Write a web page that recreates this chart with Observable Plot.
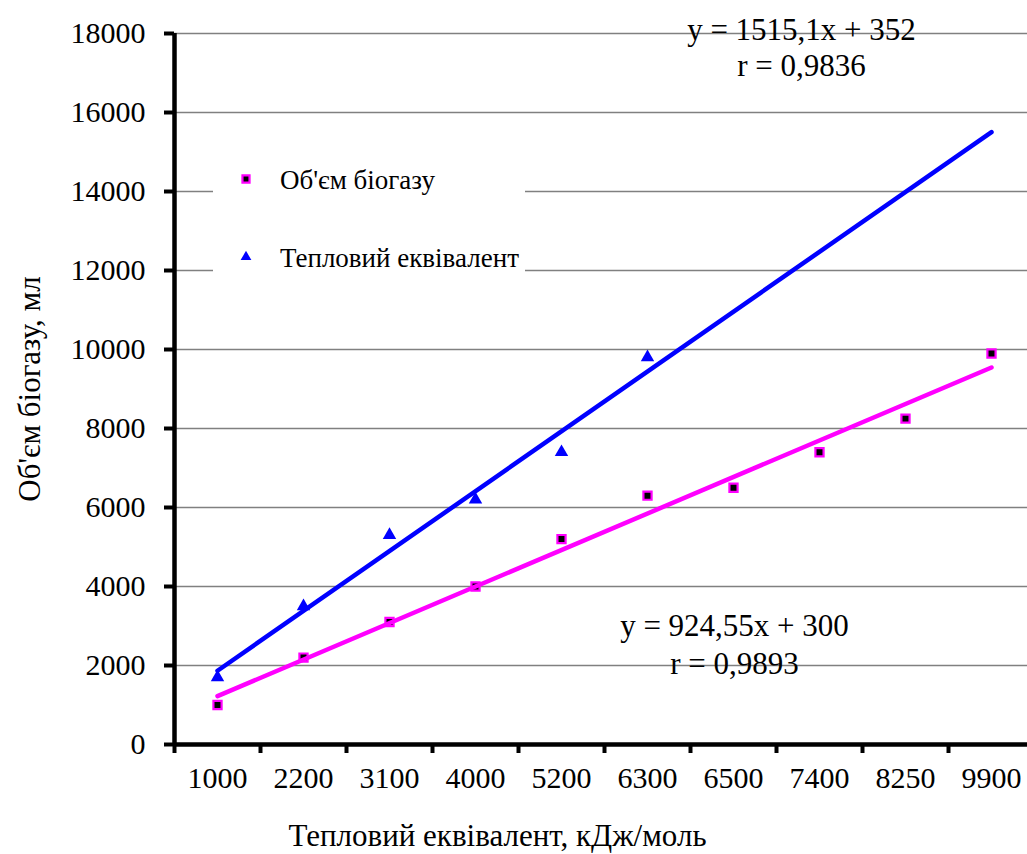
<!DOCTYPE html>
<html><head><meta charset="utf-8">
<script src="https://cdn.jsdelivr.net/npm/d3@7"></script>
<script src="https://cdn.jsdelivr.net/npm/@observablehq/plot@0.6"></script>
<style>
body{margin:0;background:#fff}
#chart svg{overflow:visible}
</style>
</head><body><div id="chart"></div>
<script>
// ---- data ----
const categories = ["1000","2200","3100","4000","5200","6300","6500","7400","8250","9900"];
const biogasVolume = [1000, 2200, 3100, 4000, 5200, 6300, 6500, 7400, 8250, 9900];
const heatEquivalent = [1700, 3500, 5300, 6200, 7400, 9800];
const heatTrendEnds = [1867, 15503];     // trend line value at first / last category
const biogasTrendEnds = [1225, 9545];
const yTickValues = [0, 2000, 4000, 6000, 8000, 10000, 12000, 14000, 16000, 18000];
const seriesNames = ["Об'єм біогазу", "Тепловий еквівалент"];
const heatEquation = "y = 1515,1x + 352\nr = 0,9836";
const biogasEquation = "y = 924,55x + 300\nr = 0,9893";
const xTitle = "Тепловий еквівалент, кДж/моль";
const yTitle = "Об'єм біогазу, мл";

const MAGENTA = "#FF00FF", BLUE = "#0000FF";
const FONT = "'Liberation Serif','Times New Roman',serif";

const biogasRows = biogasVolume.map((v, i) => ({idx: i + 1, v}));
const heatRows = heatEquivalent.map((v, i) => ({idx: i + 1, v}));
const last = categories.length;
const heatTrend = [{idx: 1, v: heatTrendEnds[0]}, {idx: last, v: heatTrendEnds[1]}];
const biogasTrend = [{idx: 1, v: biogasTrendEnds[0]}, {idx: last, v: biogasTrendEnds[1]}];
const boundaries = d3.range(0.5, last + 0.6, 1);
const labelRows = categories.map((c, i) => ({idx: i + 1, c}));

function legendMark(index, scales, values, dims) {
  const g = d3.create("svg:g");
  const L = dims.marginLeft, T = dims.marginTop;
  g.append("rect").attr("x", L + 39).attr("y", T + 117).attr("width", 312).attr("height", 126).attr("fill", "white");
  g.append("path").attr("transform", `translate(${L + 72},${T + 146})`)
    .attr("d", d3.symbol(d3.symbolSquare, 50)())
    .attr("fill", "black").attr("stroke", MAGENTA).attr("stroke-width", 2.2);
  g.append("path").attr("transform", `translate(${L + 72},${T + 224})`)
    .attr("d", d3.symbol(d3.symbolTriangle, 50)())
    .attr("fill", BLUE);
  const t = g.append("g").attr("font-family", FONT).attr("font-size", 27).attr("fill", "black").attr("text-anchor", "start");
  t.append("text").attr("x", L + 106).attr("y", T + 156).text(seriesNames[0]);
  t.append("text").attr("x", L + 106).attr("y", T + 234).text(seriesNames[1]);
  return g.node();
}

const chart = Plot.plot({
  width: 1027,
  height: 854,
  marginLeft: 174,
  marginRight: 0,
  marginTop: 33,
  marginBottom: 110,
  style: {fontFamily: FONT, fontSize: "27px", color: "black", background: "white"},
  x: {domain: [0.5, last + 0.5], range: [174, 1034], axis: null},
  y: {domain: [0, 18000], axis: null},
  marks: [
    Plot.gridY(yTickValues.slice(1), {stroke: "#808080", strokeOpacity: 1, strokeWidth: 1.6}),
    legendMark,
    Plot.dot(biogasRows, {x: "idx", y: "v", symbol: "square", r: 4.6, fill: "black", stroke: MAGENTA, strokeWidth: 2.2}),
    Plot.dot(heatRows, {x: "idx", y: "v", symbol: "triangle", r: 5, fill: BLUE}),
    Plot.line(heatTrend, {x: "idx", y: "v", stroke: BLUE, strokeWidth: 4.5, strokeLinecap: "round"}),
    Plot.line(biogasTrend, {x: "idx", y: "v", stroke: MAGENTA, strokeWidth: 4.5, strokeLinecap: "round"}),
    // axes
    Plot.axisY({ticks: yTickValues, label: null, tickSize: 10, strokeWidth: 4, tickPadding: 19, fontSize: 30, fontFamily: FONT, tickFormat: d => String(d)}),
    Plot.axisX({ticks: boundaries, label: null, tickSize: 9, strokeWidth: 4, tickFormat: () => ""}),
    Plot.ruleX([0.5], {stroke: "black", strokeWidth: 4.5}),
    Plot.ruleY([0], {stroke: "black", strokeWidth: 4.5}),
    Plot.text(labelRows, {x: "idx", text: "c", frameAnchor: "bottom", dy: 34, fontSize: 30, fontFamily: FONT, lineAnchor: "middle"}),
    // titles
    Plot.text([xTitle], {frameAnchor: "bottom-left", textAnchor: "middle", dx: 323, dy: 92, fontSize: 31, lineAnchor: "middle"}),
    Plot.text([yTitle], {frameAnchor: "left", textAnchor: "middle", dx: -144, rotate: -90, fontSize: 31, lineAnchor: "middle"}),
    // equations
    Plot.text([heatEquation], {frameAnchor: "top-left", textAnchor: "middle", dx: 627, dy: 13, fontSize: 31, lineAnchor: "middle", lineHeight: 1.17}),
    Plot.text([biogasEquation], {frameAnchor: "top-left", textAnchor: "middle", dx: 560, dy: 609, fontSize: 31, lineAnchor: "middle", lineHeight: 1.22})
  ]
});
document.getElementById("chart").appendChild(chart);
</script>
</body></html>
